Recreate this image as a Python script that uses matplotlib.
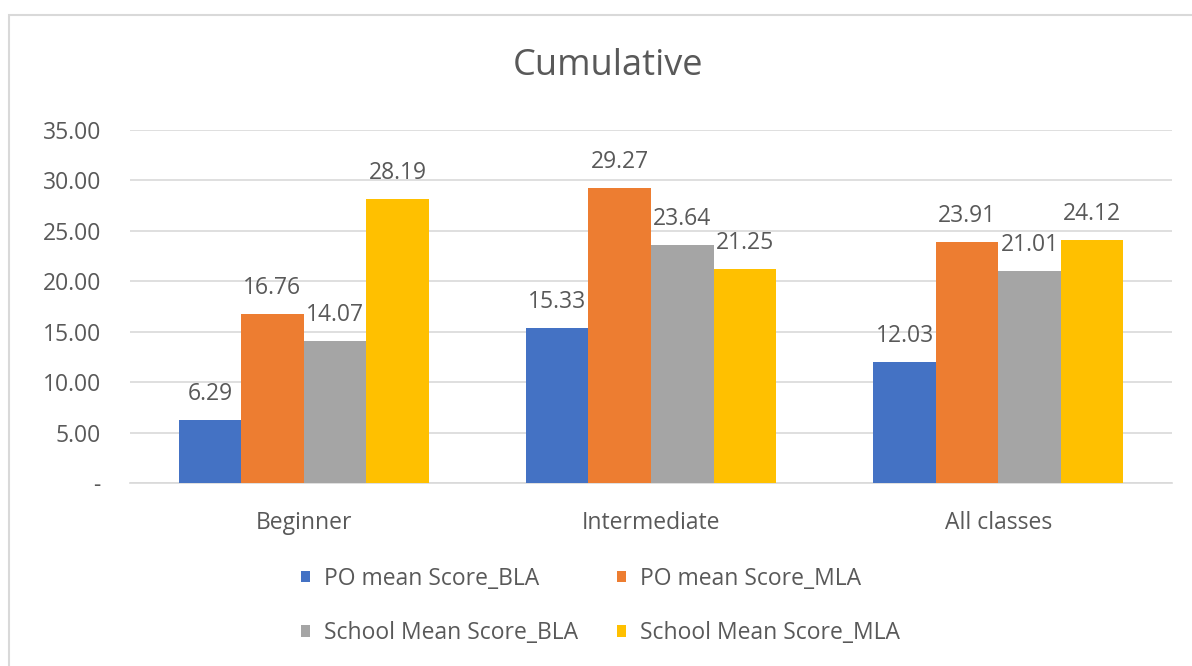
import matplotlib.pyplot as plt
import numpy as np
from matplotlib.patches import Rectangle, Patch
from matplotlib.ticker import FuncFormatter

plt.rcParams['font.family'] = ['Open Sans', 'DejaVu Sans']

categories = ["Beginner", "Intermediate", "All classes"]
series_names = ["PO mean Score_BLA", "PO mean Score_MLA",
                "School Mean Score_BLA", "School Mean Score_MLA"]
po_bla = [6.29, 15.33, 12.03]
po_mla = [16.76, 29.27, 23.91]
school_bla = [14.07, 23.64, 21.01]
school_mla = [28.19, 21.25, 24.12]
colors = ["#4472C4", "#ED7D31", "#A5A5A5", "#FFC000"]

text_col = "#595959"
grid_col = "#D9D9D9"
fs = 16.5

fig = plt.figure(figsize=(11.92, 6.66), dpi=100)
ax = fig.add_axes([130 / 1192, 1 - 483 / 666, 1042 / 1192, 353 / 666])

# chart border
fig.patches.append(Rectangle((9 / 1192, -0.1), 1.2, 0.1 + 1 - 15 / 666,
                             transform=fig.transFigure, fill=False,
                             edgecolor=grid_col, linewidth=1.5))

x = np.arange(len(categories))
w = 0.18
all_series = [po_bla, po_mla, school_bla, school_mla]
for i, vals in enumerate(all_series):
    ax.bar(x + (i - 1.5) * w, vals, w, color=colors[i], zorder=3)
    for xi, v in zip(x + (i - 1.5) * w, vals):
        ax.annotate(f"{v:.2f}", (xi, v), xytext=(0, 10), textcoords="offset points",
                    ha="center", va="bottom", fontsize=fs, color=text_col)

ax.set_xlim(-0.5, 2.5)
ax.set_ylim(0, 35)
ax.set_yticks(np.arange(0, 36, 5))
ax.yaxis.set_major_formatter(FuncFormatter(lambda v, p: "-" if v == 0 else f"{v:.2f}"))
ax.set_xticks(x)
ax.set_xticklabels(categories)
ax.tick_params(axis="both", length=0, labelsize=fs, labelcolor=text_col)
ax.tick_params(axis="y", pad=21)
ax.tick_params(axis="x", pad=20)
ax.grid(axis="y", color=grid_col, linewidth=1.2, zorder=0)
for s in ["top", "right", "left"]:
    ax.spines[s].set_visible(False)
ax.spines["bottom"].set_color(grid_col)
ax.spines["bottom"].set_linewidth(1.2)

fig.text(608 / 1192, 1 - 66 / 666, "Cumulative", ha="center", va="center",
         fontsize=26, color=text_col)

handles = [Patch(facecolor=c) for c in colors]
order = [0, 2, 1, 3]
fig.legend([handles[i] for i in order], [series_names[i] for i in order],
           ncol=2, loc="center left", bbox_to_anchor=(280 / 1192, 1 - 606 / 666),
           frameon=False, fontsize=fs, labelcolor=text_col,
           handlelength=0.4, handleheight=0.4, handletextpad=0.6,
           columnspacing=1.73, labelspacing=1.35)

fig.savefig("out.png", dpi=100)
